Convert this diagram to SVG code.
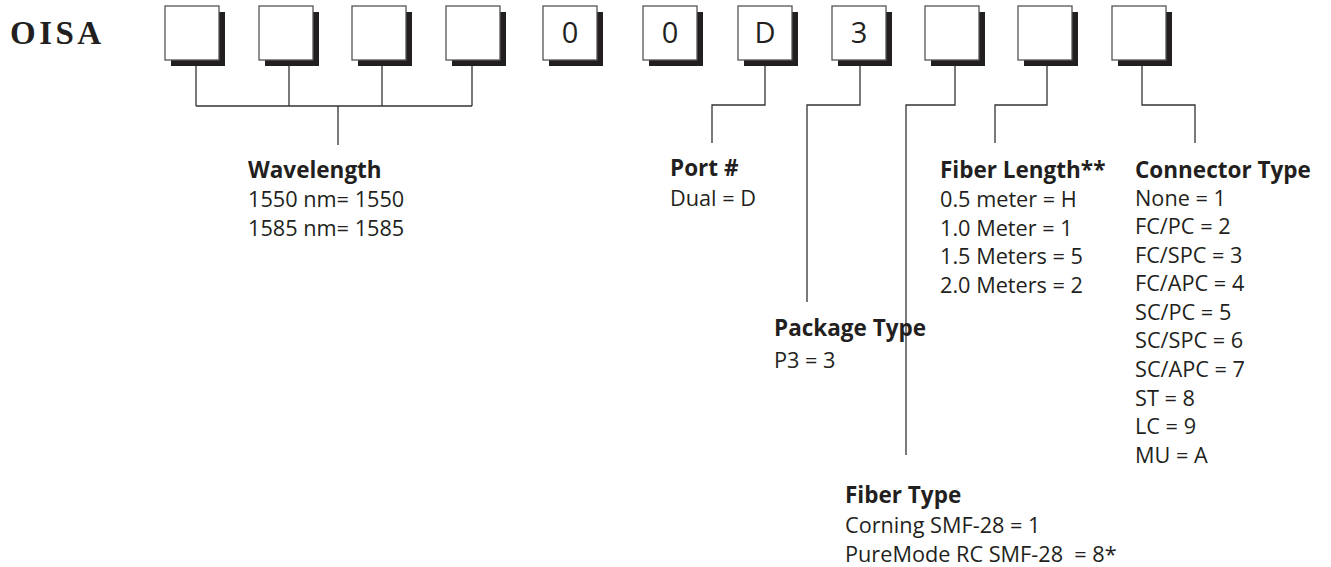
<svg xmlns="http://www.w3.org/2000/svg" width="1331" height="567" viewBox="0 0 1331 567">
<style>
.sh{fill:#231f20}
.bx{fill:#fff;stroke:#555;stroke-width:1.3}
.ch{font-family:"Open Sans","Noto Sans",sans-serif;font-size:29px;fill:#231f20;text-anchor:middle}
.hd{font-family:"Open Sans","Noto Sans",sans-serif;font-weight:bold;font-size:22.5px;fill:#231f20}
.tx{font-family:"Open Sans","Noto Sans",sans-serif;font-size:21.7px;fill:#231f20}
.ln{fill:none;stroke:#333;stroke-width:1.3}
</style>
<rect width="1331" height="567" fill="#fff"/>
<text x="10" y="44" font-family="'Liberation Serif',serif" font-weight="bold" font-size="33" letter-spacing="3.5" fill="#231f20">OISA</text>
<defs>
<g id="box"><rect class="sh" x="6" y="6" width="54" height="54"/><rect class="bx" x="0" y="0" width="54" height="54"/></g>
</defs>
<g id="b1"><use href="#box" x="165" y="6"/></g>
<g id="b2"><use href="#box" x="259" y="6"/></g>
<g id="b3"><use href="#box" x="352" y="6"/></g>
<g id="b4"><use href="#box" x="446" y="6"/></g>
<g id="b5"><use href="#box" x="543" y="6"/><text class="ch" x="570" y="43">0</text></g>
<g id="b6"><use href="#box" x="643" y="6"/><text class="ch" x="670" y="43">0</text></g>
<g id="b7"><use href="#box" x="738" y="6"/><text class="ch" x="765" y="43">D</text></g>
<g id="b8"><use href="#box" x="832" y="6"/><text class="ch" x="859" y="43">3</text></g>
<g id="b9"><use href="#box" x="925" y="6"/></g>
<g id="b10"><use href="#box" x="1018" y="6"/></g>
<g id="b11"><use href="#box" x="1112" y="6"/></g>
<g id="connectors">
<path class="ln" d="M196 66V106M289 66V106M382 66V106M472 66V106M196 106H472M338 106V145"/>
<path class="ln" d="M765 66V105H712V143"/>
<path class="ln" d="M860 66V105H807V302"/>
<path class="ln" d="M955 66V105H906V455"/>
<path class="ln" d="M1047 66V105H995V143"/>
<path class="ln" d="M1142 66V105H1195V143"/>
</g>
<g id="wavelength">
<text class="hd" x="248" y="178">Wavelength</text>
<text class="tx" x="248" y="207">1550 nm= 1550</text>
<text class="tx" x="248" y="236">1585 nm= 1585</text>
</g>
<g id="port">
<text class="hd" x="670" y="176">Port #</text>
<text class="tx" x="670" y="206">Dual = D</text>
</g>
<g id="package">
<text class="hd" x="774" y="336">Package Type</text>
<text class="tx" x="774" y="368">P3 = 3</text>
</g>
<g id="fibertype">
<text class="hd" x="845" y="503">Fiber Type</text>
<text class="tx" x="845" y="533">Corning SMF-28 = 1</text>
<text class="tx" x="845" y="562" xml:space="preserve">PureMode RC SMF-28  = 8*</text>
</g>
<g id="fiberlength">
<text class="hd" x="940" y="178">Fiber Length**</text>
<text class="tx" x="940" y="207">0.5 meter = H</text>
<text class="tx" x="940" y="236">1.0 Meter = 1</text>
<text class="tx" x="940" y="264">1.5 Meters = 5</text>
<text class="tx" x="940" y="293">2.0 Meters = 2</text>
</g>
<g id="connector">
<text class="hd" x="1135" y="178">Connector Type</text>
<text class="tx" x="1135" y="206">None = 1</text>
<text class="tx" x="1135" y="234">FC/PC = 2</text>
<text class="tx" x="1135" y="263">FC/SPC = 3</text>
<text class="tx" x="1135" y="291">FC/APC = 4</text>
<text class="tx" x="1135" y="320">SC/PC = 5</text>
<text class="tx" x="1135" y="348">SC/SPC = 6</text>
<text class="tx" x="1135" y="377">SC/APC = 7</text>
<text class="tx" x="1135" y="406">ST = 8</text>
<text class="tx" x="1135" y="434">LC = 9</text>
<text class="tx" x="1135" y="463">MU = A</text>
</g>
</svg>
